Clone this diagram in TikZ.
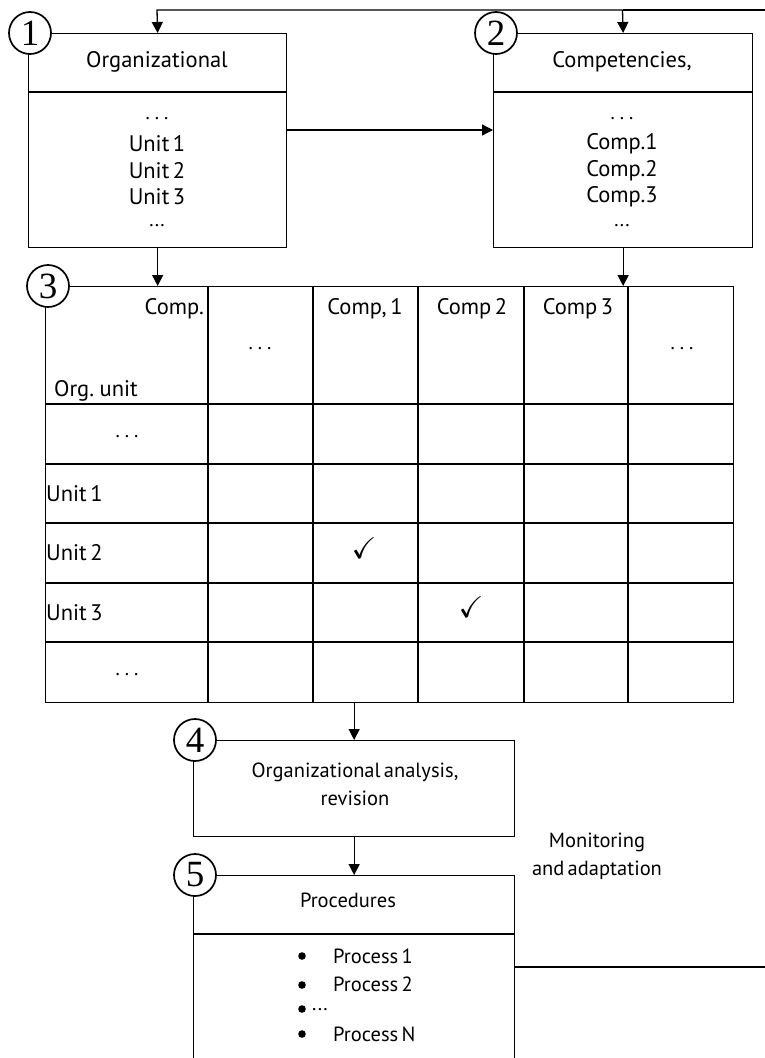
\documentclass[tikz,border=0pt]{standalone}
\usepackage{amssymb}
\usepackage{fontspec}
\setmainfont[WordSpace=0.6]{PT Sans}
\newfontfamily\numfont{Liberation Serif}
\usetikzlibrary{arrows.meta}
\tikzset{
  ln/.style={line width=1.3pt},
  arr/.style={ln, -{Triangle[length=11pt,width=11pt]}},
  frame/.style={draw, ln, anchor=north west, inner sep=0pt, fill=none},
  numcirc/.style={circle, draw, line width=1.7pt, fill=white, minimum size=42pt, inner sep=0pt, font=\numfont\fontsize{37}{37}\selectfont},
  txt/.style={inner sep=0pt, font=\fontsize{22.5}{28}\selectfont},
  txts/.style={inner sep=0pt, font=\fontsize{20.5}{28}\selectfont},
  txtl/.style={txt, anchor=west},
  dots/.style={inner sep=0pt, font=\fontsize{20}{22}\selectfont},
  chk/.style={inner sep=0pt, font=\fontsize{30}{30}\selectfont},
}
\newcommand{\sdots}{.\hspace{5pt}.\hspace{5pt}.}
\begin{document}
\begin{tikzpicture}[x=1pt,y=-1pt]
\useasboundingbox (0,0) rectangle (765,1058);
% Box 1
\node[frame, minimum width=258pt, minimum height=214pt] (b1) at (28,33) {};
\draw[ln] (28,92) -- (286,92);
\node[txt] (b1t) at (157,62) {Organizational};
\node[dots] (b1d1) at (157,119) {\sdots};
\node[txt] (b1u1) at (157,144) {Unit 1};
\node[txt] (b1u2) at (157,171) {Unit 2};
\node[txt] (b1u3) at (157,197) {Unit 3};
\node[dots] (b1d2) at (157,226) {...};
\node[numcirc] (c1) at (30,33) {1};
% Box 2
\node[frame, minimum width=259pt, minimum height=214pt] (b2) at (493,33) {};
\draw[ln] (493,92) -- (752,92);
\node[txt] (b2t) at (622,62) {Competencies,};
\node[dots] (b2d1) at (622,119) {\sdots};
\node[txt] (b2u1) at (622,144) {Comp.1};
\node[txt] (b2u2) at (622,171) {Comp.2};
\node[txt] (b2u3) at (622,197) {Comp.3};
\node[dots] (b2d2) at (622,226) {...};
\node[numcirc] (c2) at (496,33) {2};
% arrow 1 -> 2
\coordinate (a12) at (286,130);
\coordinate (a12e) at (493,130);
\draw[arr] (a12) -- (a12e);
% Table
\node[frame, minimum width=688pt, minimum height=416pt] (tab) at (45,286) {};
\foreach \x in {208,313,418,524,628} \draw[ln] (\x,286) -- (\x,702);
\foreach \y in {404,464,523,583,642} \draw[ln] (45,\y) -- (733,\y);
\node[txt, anchor=east] (hcomp) at (204,309) {Comp.};
\node[txtl] (horg) at (54,391) {Org. unit};
\node[dots] (hd1) at (260,349) {\sdots};
\node[txt] (hc1) at (365,309) {Comp, 1};
\node[txt] (hc2) at (472,309) {Comp 2};
\node[txt] (hc3) at (578,309) {Comp 3};
\node[dots] (hd2) at (682,349) {\sdots};
\node[dots] (rd1) at (127,437) {\sdots};
\node[txtl] (ru1) at (46,494) {Unit 1};
\node[txtl] (ru2) at (46,553) {Unit 2};
\node[txtl] (ru3) at (46,613) {Unit 3};
\node[dots] (rd2) at (127,675) {\sdots};
\node[chk] (ck1) at (364,548) {$\checkmark$};
\node[chk] (ck2) at (471,607) {$\checkmark$};
\node[numcirc] (c3) at (48,286) {3};
% arrows into table
\draw[arr] (b1.south) -- (b1.south |- tab.north);
\draw[arr] (b2.south) -- (b2.south |- tab.north);
% Box 4
\node[frame, minimum width=321pt, minimum height=96pt] (b4) at (193,740) {};
\node[txts, align=center] (b4t) at (355,784) {Organizational analysis,\\revision};
\node[numcirc] (c4) at (195,740) {4};
\draw[arr] (b4.north |- tab.south) -- (b4.north);
% Box 5
\node[frame, minimum width=321pt, minimum height=210pt] (b5) at (193,875) {};
\draw[ln] (193,934) -- (514,934);
\node[txts] (b5t) at (348,900) {Procedures};
\node[numcirc] (c5) at (195,875) {5};
\draw[arr] (b4.south) -- (b5.north);
\foreach \yy/\nm in {956/p1,985/p2,1009/p3,1034/p4}
  \fill (302,\yy) circle (3.8pt) coordinate (\nm);
\node[txts, anchor=west] (pt1) at (333,956) {Process 1};
\node[txts, anchor=west] (pt2) at (333,984) {Process 2};
\node[dots, anchor=west] (pt3) at (312,1010) {...};
\node[txts, anchor=west] (pt4) at (333,1034) {Process N};
% Monitoring label
\node[txts, align=center] (mon) at (597,856) {Monitoring\\and adaptation};
% feedback loop
\coordinate (fbr) at (768,967);
\coordinate (fbt) at (768,10);
\coordinate (fb2) at (622.5,10);
\coordinate (fb1) at (157,10);
\draw[ln] (b5.east |- fbr) -- (fbr) -- (fbt) -- (fb2);
\draw[arr] (fb2) -- (fb1) -- (b1.north);
\draw[arr] (fb2) -- (b2.north);
\end{tikzpicture}
\end{document}
